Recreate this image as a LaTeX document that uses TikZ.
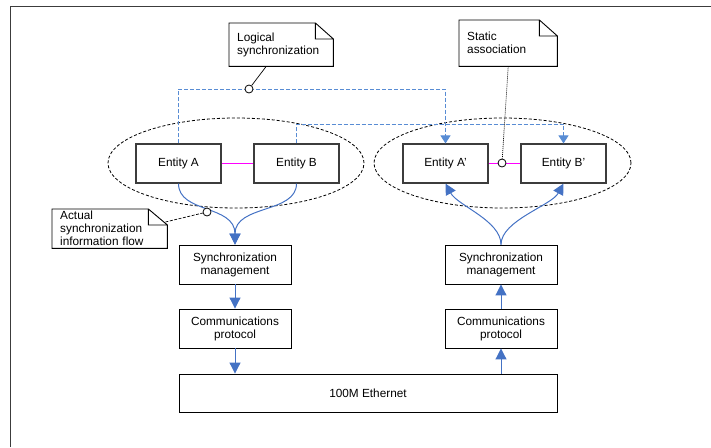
\documentclass[tikz,border=0pt]{standalone}
\usepackage{fontspec}
\setmainfont{Liberation Sans}
\usetikzlibrary{shapes.geometric,arrows.meta}
\definecolor{flowblue}{RGB}{68,114,196}
\definecolor{dashblue}{RGB}{88,140,212}
\definecolor{boxgray}{RGB}{60,60,60}
\definecolor{linkpink}{rgb}{1,0,1}
\newcommand\drawnote[3]{\draw[noteline] (#1.south west) -- (#1.north west) -- ([xshift=-#2pt]#1.north east) -- ([yshift=-#3pt]#1.north east) -- (#1.south east) -- cycle ([xshift=-#2pt]#1.north east) |- ([yshift=-#3pt]#1.north east);}
\begin{document}
\begin{tikzpicture}[x=1pt,y=-1pt,font=\fontsize{11.8}{13}\selectfont,
  entity/.style={draw=boxgray,line width=1.1pt,fill=white,minimum width=85pt,minimum height=39pt,inner sep=0pt},
  layer/.style={draw=black,line width=0.9pt,fill=white,minimum width=112pt,minimum height=39pt,align=center,inner sep=0pt},
  notetext/.style={anchor=north west,inner xsep=8pt,inner ysep=0pt,align=left},
  noteline/.style={draw=black,line width=0.9pt},
  marker/.style={circle,draw=black,fill=white,line width=0.8pt,minimum size=8pt,inner sep=0pt},
  group/.style={ellipse,draw=black,dash pattern=on 3pt off 2pt,line width=0.8pt,inner sep=0pt},
  flow/.style={draw=flowblue,line width=1pt,-{Triangle[width=11pt,length=11pt]}},
  logic/.style={draw=dashblue,line width=1pt,dash pattern=on 4pt off 2pt,-{Triangle[width=10pt,length=8pt]}},
  statlink/.style={draw=linkpink,line width=1.1pt}]
\useasboundingbox (0,0) rectangle (711,447);
\draw[boxgray,line width=1pt] (10,447) -- (10,6) -- (711,6);
% groups
\node[group,minimum width=256pt,minimum height=90pt] (gL) at (236,163) {};
\node[group,minimum width=257pt,minimum height=90pt] (gR) at (502.5,163) {};
% entities
\node[entity] (eA) at (178.5,163.5) {Entity A};
\node[entity] (eB) at (296.5,163.5) {Entity B};
\node[entity] (eAp) at (445.5,163.5) {Entity A’};
\node[entity] (eBp) at (563.5,163.5) {Entity B’};
% layers
\node[layer] (syncL) at (235,264.5) {Synchronization\\management};
\node[layer] (commL) at (235,328.5) {Communications\\protocol};
\node[layer] (syncR) at (501,264.5) {Synchronization\\management};
\node[layer] (commR) at (501,328.5) {Communications\\protocol};
\node[layer,minimum width=378pt,minimum height=38pt] (eth) at (368,393) {100M Ethernet};
% logical sync dashed
\coordinate (clogpt) at (249,89);
\draw[logic] (eA.north) |- (clogpt) -| (eAp.north);
\draw[logic] (eB.north) -- ++(0,-19) -| (eBp.north);
% flows
\draw[flow] (eA.south) .. controls +(0,30) and +(0,-40) .. (syncL.north);
\draw[flow] (eB.south) .. controls +(0,30) and +(0,-40) .. (syncL.north);
\draw[flow] (syncL.south) -- (commL.north);
\draw[flow] (commL.south) -- (commL.south |- eth.north);
\draw[flow] (eth.north -| commR.south) -- (commR.south);
\draw[flow] (commR.north) -- (syncR.south);
\draw[flow] (syncR.north) .. controls +(0,-24) and +(12,22) .. (eAp.south);
\draw[flow] (syncR.north) .. controls +(0,-24) and +(-12,22) .. (eBp.south);
% notes
\node[notetext,minimum width=104pt,minimum height=43pt,text width=88pt] (nlog) at (229,23) {Logical\\synchronization};
\drawnote{nlog}{18}{16}
\node[notetext,minimum width=98pt,minimum height=46pt,text width=82pt] (nst) at (459,20) {Static\\association};
\drawnote{nst}{18}{16}
\node[notetext,minimum width=115pt,minimum height=39pt,text width=99pt] (nact) at (52,209) {Actual\\synchronization\\information flow};
\drawnote{nact}{19}{16}
% static links
\draw[statlink] (eA.east) -- (eB.west);
\draw[statlink] (eAp.east) -- (eBp.west);
% markers
\node[marker] (clog) at (clogpt) {};
\node[marker] (cst) at (502,163) {};
\node[marker] (cact) at (207,212) {};
\draw[black,line width=0.7pt] ([xshift=-15pt]nlog.south) -- (clog);
\draw[black,line width=0.7pt,dash pattern=on 1pt off 1pt] (nst.south) -- (cst);
\draw[black,line width=0.7pt,dash pattern=on 3pt off 1.5pt] ([yshift=-13pt,xshift=-2pt]nact.north east) -- (cact);
\end{tikzpicture}
\end{document}
